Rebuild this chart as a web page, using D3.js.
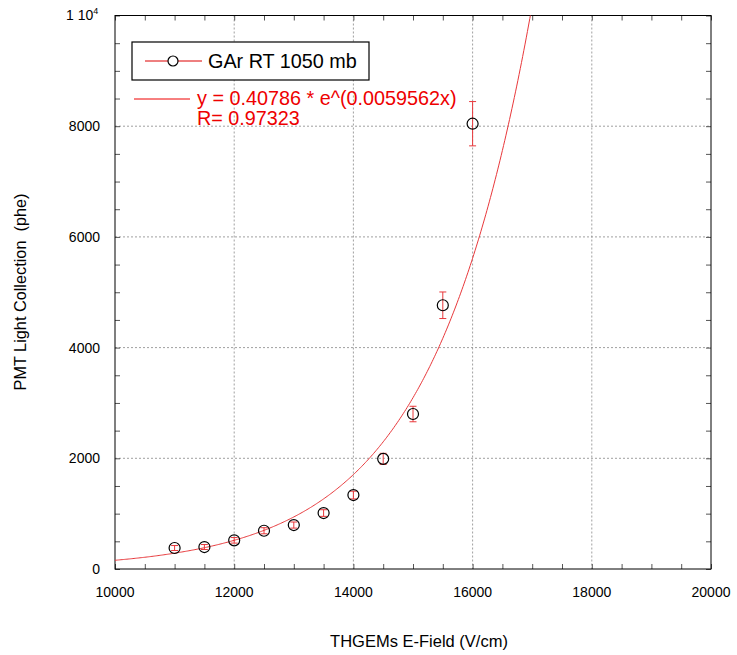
<!DOCTYPE html>
<html><head><meta charset="utf-8">
<script src="https://cdn.jsdelivr.net/npm/d3@7"></script>
<style>body{margin:0;background:#fff;}svg{display:block;font-family:"Liberation Sans",Arial,Helvetica,sans-serif;}</style>
</head><body><svg id="c" width="737" height="655"></svg>
<script>
const fieldX = [11000, 11500, 12000, 12500, 13000, 13500, 14000, 14500, 15000, 15500, 16000];
const lightY = [379, 397, 518, 691, 794, 1011, 1336, 1990, 2800, 4765, 8045];
const errY = [45, 45, 50, 55, 55, 60, 70, 100, 140, 240, 400];
const xTicks = [10000, 12000, 14000, 16000, 18000, 20000];
const yTicks = [0, 2000, 4000, 6000, 8000];
const fitA = 0.40786, fitK = 0.00059562;
const legendLabel = "GAr RT 1050 mb";
const fitLabel1 = "y = 0.40786 * e^(0.0059562x)";
const fitLabel2 = "R= 0.97323";

const svg = d3.select("#c");
const L = 115, R = 711, T = 15.5, B = 569;
const x = d3.scaleLinear().domain([10000, 20000]).range([L, R]);
const y = d3.scaleLinear().domain([0, 10000]).range([B, T]);

// grid
const g = svg.append("g");
g.selectAll(".gx").data(xTicks.slice(1, -1)).join("line")
  .attr("x1", d => x(d)).attr("x2", d => x(d)).attr("y1", T).attr("y2", B)
  .attr("stroke", "#888").attr("stroke-width", 0.8).attr("stroke-dasharray", "2,2");
g.selectAll(".gy").data(yTicks.slice(1)).join("line")
  .attr("y1", d => y(d)).attr("y2", d => y(d)).attr("x1", L).attr("x2", R)
  .attr("stroke", "#888").attr("stroke-width", 0.8).attr("stroke-dasharray", "2,2");

// axes
const minor = d3.range(10000, 20001, 500);
const minorY = d3.range(0, 10001, 500);
svg.append("g").attr("transform", `translate(0,${B})`)
  .call(d3.axisBottom(x).tickValues(minor).tickSize(-5).tickFormat(""))
  .call(a => a.select(".domain").remove());
svg.append("g").attr("transform", `translate(0,${T})`)
  .call(d3.axisTop(x).tickValues(minor).tickSize(-5).tickFormat(""))
  .call(a => a.select(".domain").remove());
svg.append("g").attr("transform", `translate(${L},0)`)
  .call(d3.axisLeft(y).tickValues(minorY).tickSize(-5).tickFormat(""))
  .call(a => a.select(".domain").remove());
svg.append("g").attr("transform", `translate(${R},0)`)
  .call(d3.axisRight(y).tickValues(minorY).tickSize(-5).tickFormat(""))
  .call(a => a.select(".domain").remove());
svg.selectAll(".tick line").attr("stroke", "#555");

// tick labels
svg.append("g").selectAll("text").data(xTicks).join("text")
  .attr("x", d => x(d)).attr("y", 597).attr("text-anchor", "middle")
  .attr("font-size", 14).text(d => d);
svg.append("g").selectAll("text").data(yTicks).join("text")
  .attr("x", 100).attr("y", d => y(d) + 5).attr("text-anchor", "end")
  .attr("font-size", 14).text(d => d);
const topLbl = svg.append("text").attr("x", 66).attr("y", 20).attr("font-size", 14);
topLbl.append("tspan").text("1 10");
topLbl.append("tspan").attr("font-size", 9).attr("dy", -6).text("4");

// frame
svg.append("rect").attr("x", L).attr("y", T).attr("width", R - L).attr("height", B - T)
  .attr("fill", "none").attr("stroke", "#000").attr("stroke-width", 1);

// clip
svg.append("clipPath").attr("id", "clp").append("rect")
  .attr("x", L).attr("y", T).attr("width", R - L).attr("height", B - T);

// fit curve
const xs = d3.range(10000, 17100, 20);
svg.append("path").attr("clip-path", "url(#clp)")
  .datum(xs.map(v => [v, fitA * Math.exp(fitK * v)]))
  .attr("d", d3.line().x(d => x(d[0])).y(d => y(d[1])))
  .attr("fill", "none").attr("stroke", "#e8383b").attr("stroke-width", 1);

// error bars
const pts = fieldX.map((v, i) => ({x: v, y: lightY[i], e: errY[i]}));
const eb = svg.append("g").attr("stroke", "#e8383b").attr("stroke-width", 1);
eb.selectAll(".v").data(pts).join("line")
  .attr("x1", d => x(d.x)).attr("x2", d => x(d.x))
  .attr("y1", d => y(d.y - d.e)).attr("y2", d => y(d.y + d.e));
eb.selectAll(".t").data(pts).join("line")
  .attr("x1", d => x(d.x) - 3.5).attr("x2", d => x(d.x) + 3.5)
  .attr("y1", d => y(d.y + d.e)).attr("y2", d => y(d.y + d.e));
eb.selectAll(".b").data(pts).join("line")
  .attr("x1", d => x(d.x) - 3.5).attr("x2", d => x(d.x) + 3.5)
  .attr("y1", d => y(d.y - d.e)).attr("y2", d => y(d.y - d.e));

// markers
svg.append("g").selectAll("circle").data(pts).join("circle")
  .attr("cx", d => x(d.x)).attr("cy", d => y(d.y)).attr("r", 5.5)
  .attr("fill", "none").attr("stroke", "#000").attr("stroke-width", 1.2);

// legend
svg.append("rect").attr("x", 132).attr("y", 42).attr("width", 237).attr("height", 38)
  .attr("fill", "#fff").attr("stroke", "#000").attr("stroke-width", 1.2);
svg.append("line").attr("x1", 145).attr("x2", 202).attr("y1", 61).attr("y2", 61)
  .attr("stroke", "#d00").attr("stroke-width", 1);
svg.append("circle").attr("cx", 173).attr("cy", 61).attr("r", 5)
  .attr("fill", "#fff").attr("stroke", "#000").attr("stroke-width", 1.2);
svg.append("text").attr("x", 208).attr("y", 67.5).attr("font-size", 19.8).text(legendLabel);

svg.append("line").attr("x1", 134).attr("x2", 190).attr("y1", 99).attr("y2", 99)
  .attr("stroke", "#e00").attr("stroke-width", 1);
svg.append("text").attr("x", 197).attr("y", 105).attr("font-size", 19.8).attr("fill", "#e00").text(fitLabel1);
svg.append("text").attr("x", 197).attr("y", 124.5).attr("font-size", 19.8).attr("fill", "#e00").text(fitLabel2);

// axis titles
svg.append("text").attr("x", 419).attr("y", 647).attr("text-anchor", "middle")
  .attr("font-size", 16.5).text("THGEMs E-Field (V/cm)");
svg.append("text").attr("transform", "translate(26,292) rotate(-90)").attr("text-anchor", "middle")
  .attr("font-size", 16.3).attr("xml:space", "preserve").text("PMT Light Collection  (phe)");
</script></body></html>
